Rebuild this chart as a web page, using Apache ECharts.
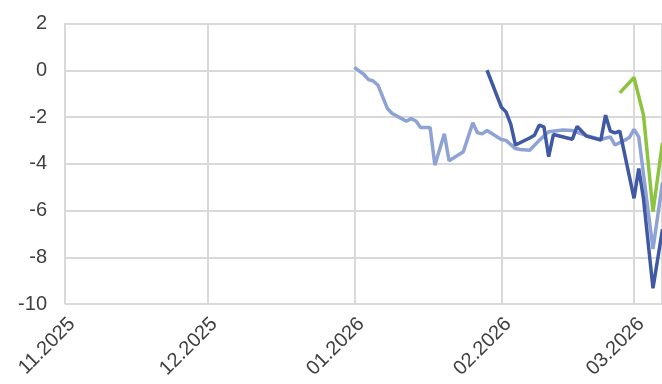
<!DOCTYPE html>
<html>
<head>
<meta charset="utf-8">
<script src="https://cdn.jsdelivr.net/npm/echarts@6/dist/echarts.min.js"></script>
<style>
html,body{margin:0;padding:0;background:#fff;}
#c{width:662px;height:384px;}
</style>
</head>
<body>
<div id="c"></div>
<script>
const yTicks = [-10, -8, -6, -4, -2, 0, 2];

const lightDates = ['2026-01-01','2026-01-03','2026-01-04','2026-01-05','2026-01-06','2026-01-08','2026-01-09','2026-01-11','2026-01-12','2026-01-13','2026-01-14','2026-01-15','2026-01-17','2026-01-18','2026-01-20','2026-01-21','2026-01-24','2026-01-26','2026-01-27','2026-01-28','2026-01-29','2026-02-01','2026-02-02','2026-02-04','2026-02-05','2026-02-07','2026-02-09','2026-02-11','2026-02-14','2026-02-16','2026-02-19','2026-02-22','2026-02-24','2026-02-25','2026-02-27','2026-02-28','2026-03-01','2026-03-02','2026-03-05','2026-03-07'];
const lightValues = [0.12,-0.17,-0.40,-0.46,-0.64,-1.64,-1.85,-2.07,-2.18,-2.07,-2.17,-2.45,-2.45,-4.06,-2.72,-3.87,-3.49,-2.25,-2.68,-2.72,-2.58,-2.96,-3.0,-3.35,-3.39,-3.42,-3.0,-2.63,-2.56,-2.58,-2.8,-2.96,-2.85,-3.2,-3.0,-2.88,-2.53,-2.85,-7.65,-4.8];

const darkDates = ['2026-01-29','2026-02-01','2026-02-02','2026-02-03','2026-02-04','2026-02-07','2026-02-08','2026-02-09','2026-02-10','2026-02-11','2026-02-12','2026-02-16','2026-02-17','2026-02-19','2026-02-22','2026-02-23','2026-02-24','2026-02-25','2026-02-26','2026-03-01','2026-03-02','2026-03-03','2026-03-05','2026-03-07'];
const darkValues = [0.0,-1.57,-1.78,-2.3,-3.2,-2.9,-2.78,-2.35,-2.42,-3.7,-2.75,-2.95,-2.4,-2.82,-2.99,-1.92,-2.6,-2.68,-2.6,-5.48,-4.2,-5.5,-9.33,-6.8];

const greenDates = ['2026-02-26','2026-03-01','2026-03-03','2026-03-05','2026-03-07'];
const greenValues = [-0.97,-0.31,-1.92,-6.05,-3.1];

function pairs(d, v) { return d.map((x, i) => [x, v[i]]); }

const DAY = 86400000;
const xMin = new Date(2025, 10, 1).getTime();
const xMax = xMin + 125.9 * DAY;

const chart = echarts.init(document.getElementById('c'), null, {renderer: 'canvas'});
const font = 'Liberation Sans, Arial, sans-serif';
chart.setOption({
  animation: false,
  grid: {left: 65, right: 0, top: 23.5, bottom: 80, containLabel: false},
  xAxis: {
    type: 'time',
    min: xMin,
    max: xMax,
    minInterval: 28 * DAY,
    maxInterval: 31 * DAY,
    axisLine: {show: false},
    axisTick: {show: false},
    splitLine: {show: true, lineStyle: {color: '#d9d9d9', width: 2}},
    axisLabel: {
      rotate: 45,
      margin: 10,
      fontSize: 20,
      fontFamily: font,
      color: '#404040',
      verticalAlign: 'top',
      hideOverlap: false,
      formatter: function (v) {
        const d = new Date(v);
        const m = d.getMonth() + 1;
        return (m < 10 ? '0' + m : '' + m) + '.' + d.getFullYear();
      }
    }
  },
  yAxis: {
    type: 'value',
    min: yTicks[0],
    max: yTicks[yTicks.length - 1],
    interval: 2,
    axisLine: {show: false},
    axisTick: {show: false},
    splitLine: {show: true, lineStyle: {color: '#d9d9d9', width: 2}},
    axisLabel: {fontSize: 20, fontFamily: font, color: '#404040', margin: 18}
  },
  series: [
    {type: 'line', data: pairs(lightDates, lightValues), showSymbol: false, lineStyle: {color: '#8EA2D4', width: 3.5}, itemStyle: {color: '#8EA2D4'}, clip: true},
    {type: 'line', data: pairs(darkDates, darkValues), showSymbol: false, lineStyle: {color: '#3F59A4', width: 3.5}, itemStyle: {color: '#3F59A4'}, clip: true},
    {type: 'line', data: pairs(greenDates, greenValues), showSymbol: false, lineStyle: {color: '#8CC43F', width: 3.5}, itemStyle: {color: '#8CC43F'}, clip: true}
  ]
});
</script>
</body>
</html>
